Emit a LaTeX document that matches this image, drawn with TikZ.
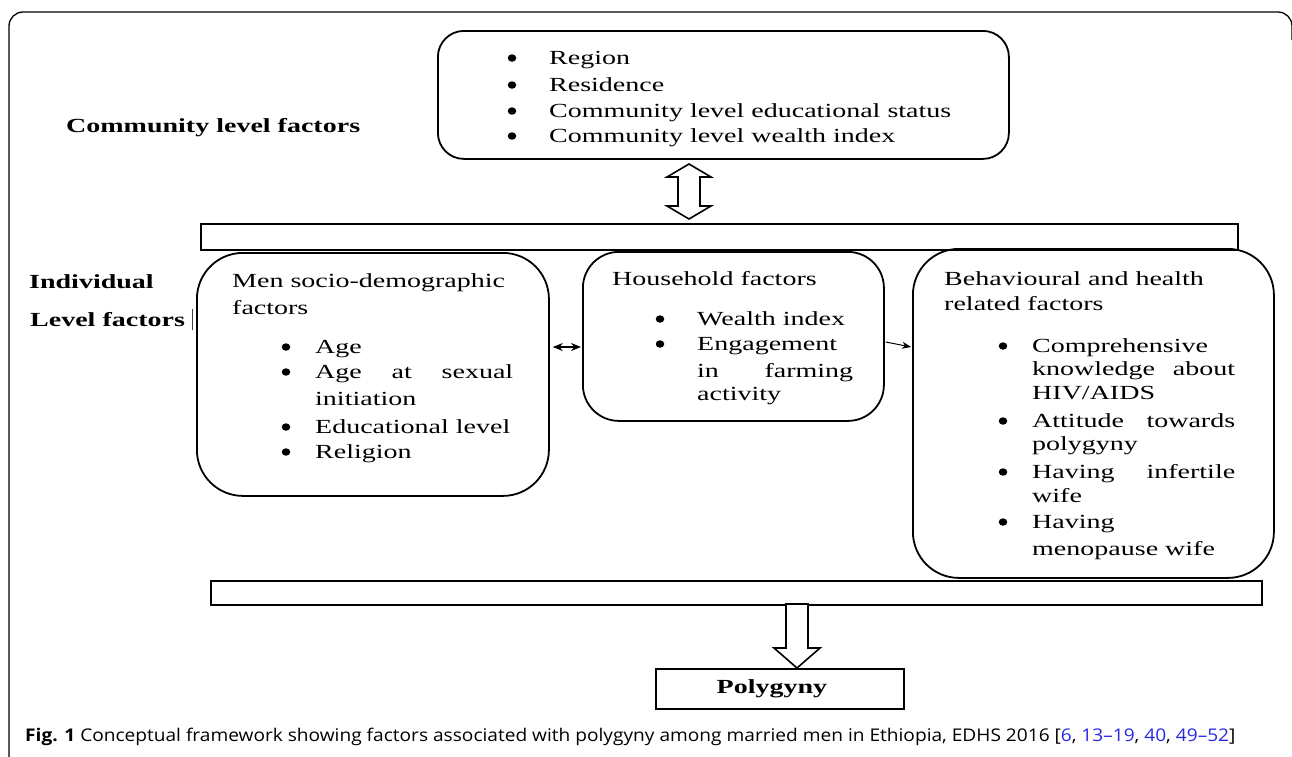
\documentclass[tikz,border=0pt]{standalone}
\usepackage{fontspec}
\setmainfont{Liberation Serif}
\newfontfamily\figfont[FakeStretch=1.4]{Liberation Serif}
\newfontfamily\capfont[FakeStretch=1.092]{Open Sans}
\usetikzlibrary{calc,arrows.meta,shapes.geometric}
\definecolor{citeblue}{RGB}{40,40,230}
\begin{document}
\begin{tikzpicture}[x=1pt,y=-1pt,
  box/.style={draw, line width=1.8pt, inner sep=0pt},
  bar/.style={draw, line width=1.8pt, inner sep=0pt, anchor=north west},
  txt/.style={inner sep=0pt, font=\figfont\fontsize{20}{24}\selectfont},
  btxt/.style={inner sep=0pt, font=\figfont\bfseries\fontsize{20}{24}\selectfont},
  dot/.style={ellipse, fill, inner sep=0pt, minimum width=8.5pt, minimum height=7.5pt},
  blk/.style={draw, line width=1.6pt, fill=white, line join=miter},
  small/.style={line width=1.2pt, {Stealth[length=10pt,width=8pt]}-{Stealth[length=10pt,width=8pt]}},
  one/.style={line width=1pt, -{Stealth[length=9pt,width=7pt]}}
]
\useasboundingbox (0,0) rectangle (1292,756);
% outer frame
\draw[line width=1.3pt, rounded corners=14pt] (9,770) -- (9,12) -- (1292,12) -- (1292,40);

% community
\node[box, rounded corners=26pt, minimum width=571pt, minimum height=128pt, anchor=north west] (comm) at (437,30) {};
\node[dot] (cb1) at (512,58) {};
\node[txt, anchor=base west] (ct1) at (549,64) {Region};
\node[dot] (cb2) at (512,85) {};
\node[txt, anchor=base west] (ct2) at (549,91) {Residence};
\node[dot] (cb3) at (512,111) {};
\node[txt, anchor=base west] (ct3) at (549,117) {Community level educational status};
\node[dot] (cb4) at (512,136) {};
\node[txt, anchor=base west] (ct4) at (549,142) {Community level wealth index};
\node[btxt, anchor=base west] (clab) at (66,132) {Community level factors};

% double block arrow
\coordinate (dt) at (689,164);
\coordinate (db) at (689,219);
\draw[blk] (dt) -- ++(22,13) -- ++(-11,0) |- ($(db)+(22,-13)$) -- (db) -- ++(-22,-13) -- ++(11,0) |- ($(dt)+(-22,13)$) -- cycle;

% top bar
\node[bar, minimum width=1037pt, minimum height=26pt] (tbar) at (200,223) {};

% individual label
\node[btxt, anchor=base west] (ilab1) at (29,288) {Individual};
\node[btxt, anchor=base west] (ilab2) at (30,326) {Level factors};
\draw[line width=0.9pt, darkgray] (192,309) -- (192,330);

% men box
\node[box, rounded corners=46pt, minimum width=352pt, minimum height=243pt, anchor=north west] (men) at (196,252) {};
\node[txt, anchor=base west] (m0) at (232,287) {Men socio-demographic};
\node[txt, anchor=base west] (m0b) at (232,314) {factors};
\node[dot] (mb1) at (286,347) {};
\node[txt, anchor=base west] (m1) at (315,353) {Age};
\node[dot] (mb2) at (286,372) {};
\node[txt, anchor=base west] (m2) at (315,378) {\makebox[198pt][s]{Age at sexual}};
\node[txt, anchor=base west] (m2b) at (315,405) {initiation};
\node[dot] (mb3) at (286,427) {};
\node[txt, anchor=base west] (m3) at (315,433) {Educational level};
\node[dot] (mb4) at (286,452) {};
\node[txt, anchor=base west] (m4) at (315,458) {Religion};

% household box
\node[box, rounded corners=36pt, minimum width=301pt, minimum height=169pt, anchor=north west] (hh) at (582,251) {};
\node[txt, anchor=base west] (h0) at (612,285) {Household factors};
\node[dot] (hb1) at (660,319) {};
\node[txt, anchor=base west] (h1) at (697,325) {Wealth index};
\node[dot] (hb2) at (660,344) {};
\node[txt, anchor=base west] (h2) at (697,350) {Engagement};
\node[txt, anchor=base west] (h2b) at (697,377) {\makebox[156pt][s]{in farming}};
\node[txt, anchor=base west] (h2c) at (697,400) {activity};

% behavioural box
\node[box, rounded corners=46pt, minimum width=361pt, minimum height=329pt, anchor=north west] (beh) at (912,248) {};
\node[txt, anchor=base west] (b0) at (944,285) {Behavioural and health};
\node[txt, anchor=base west] (b0b) at (944,310) {related factors};
\node[dot] (bb1) at (1003,346) {};
\node[txt, anchor=base west] (b1) at (1032,352) {Comprehensive};
\node[txt, anchor=base west] (b1b) at (1032,375) {\makebox[203pt][s]{knowledge about}};
\node[txt, anchor=base west] (b1c) at (1032,399) {HIV/AIDS};
\node[dot] (bb2) at (1003,421) {};
\node[txt, anchor=base west] (b2) at (1032,427) {\makebox[203pt][s]{Attitude towards}};
\node[txt, anchor=base west] (b2b) at (1032,450) {polygyny};
\node[dot] (bb3) at (1003,472) {};
\node[txt, anchor=base west] (b3) at (1032,478) {\makebox[203pt][s]{Having infertile}};
\node[txt, anchor=base west] (b3b) at (1032,502) {wife};
\node[dot] (bb4) at (1003,522) {};
\node[txt, anchor=base west] (b4) at (1032,528) {Having};
\node[txt, anchor=base west] (b4b) at (1032,555) {menopause wife};

% small arrows
\coordinate (ay) at (0,347);
\coordinate (ay2) at (0,342);
\draw[small] ([xshift=3pt]men.east |- ay) -- ([xshift=-1pt]hh.west |- ay);
\draw[one] ([xshift=1pt]hh.east |- ay2) -- ([xshift=-1pt]beh.west |- ay);

% bottom bar
\node[bar, minimum width=1051pt, minimum height=24pt] (bbar) at (210,580) {};

% polygyny
\node[draw, line width=1.8pt, minimum width=248pt, minimum height=40pt, anchor=north west, inner sep=0pt, font=\figfont\bfseries\fontsize{20}{24}\selectfont] (poly) at (655,668) {\hspace*{-16pt}Polygyny};

% down block arrow
\coordinate (ds) at (797,604);
\coordinate (dtip) at (797,668);
\draw[blk] ($(ds)+(-11,0)$) -- ($(ds)+(11,0)$) -- ($(dtip)+(11,-20)$) -- ($(dtip)+(23,-20)$) -- (dtip) -- ($(dtip)+(-23,-20)$) -- ($(dtip)+(-11,-20)$) -- cycle;

% caption
\node[anchor=base west, inner sep=0pt, font=\capfont\fontsize{17.5}{20}\selectfont] (cap) at (25,741) {\textbf{Fig. 1} Conceptual framework showing factors associated with polygyny among married men in Ethiopia, EDHS 2016 [\textcolor{citeblue}{6}, \textcolor{citeblue}{13–19}, \textcolor{citeblue}{40}, \textcolor{citeblue}{49–52}]};
\end{tikzpicture}
\end{document}
